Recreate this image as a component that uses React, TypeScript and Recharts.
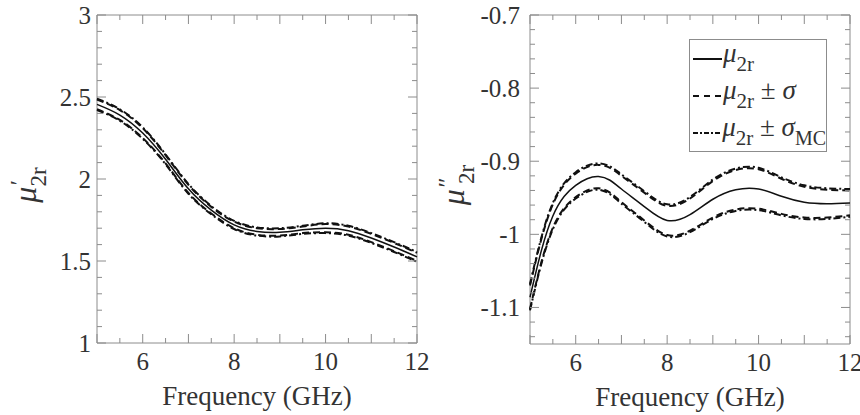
import React from 'react';
import { LineChart, Line, XAxis, YAxis, ReferenceArea, Legend, Label } from 'recharts';

const FONT = "'Liberation Serif'";
const FRAME = '#8c8c8c';
const TEXT = '#333333';
const INK = '#111111';

// ---------- Left panel: real part mu'_2r ----------
const leftFreq = [5, 5.5, 6, 6.5, 7, 7.5, 8, 8.5, 9, 9.5, 10, 10.5, 11, 11.5, 12];
const leftMean = [2.455, 2.39, 2.28, 2.12, 1.94, 1.81, 1.72, 1.68, 1.675, 1.69, 1.70, 1.685, 1.64, 1.585, 1.525];
const leftSigmaUp = [2.485, 2.42, 2.31, 2.145, 1.965, 1.83, 1.74, 1.70, 1.695, 1.71, 1.725, 1.71, 1.665, 1.61, 1.55];
const leftSigmaDown = [2.425, 2.36, 2.25, 2.095, 1.915, 1.79, 1.70, 1.66, 1.655, 1.67, 1.675, 1.66, 1.615, 1.56, 1.50];
const leftMcUp = [2.49, 2.425, 2.315, 2.15, 1.97, 1.835, 1.745, 1.705, 1.70, 1.715, 1.73, 1.715, 1.67, 1.615, 1.555];
const leftMcDown = [2.42, 2.355, 2.245, 2.09, 1.91, 1.785, 1.695, 1.655, 1.65, 1.665, 1.67, 1.655, 1.61, 1.555, 1.495];

// ---------- Right panel: imaginary part mu''_2r ----------
const rightFreq = [5, 5.25, 5.5, 5.75, 6, 6.25, 6.5, 6.75, 7, 7.5, 8, 8.5, 9, 9.5, 10, 10.5, 11, 11.5, 12];
const rightMean = [-1.086, -1.022, -0.975, -0.948, -0.933, -0.924, -0.921, -0.926, -0.938, -0.962, -0.981, -0.973, -0.952, -0.939, -0.938, -0.948, -0.956, -0.958, -0.957];
const rightSigmaUp = [-1.070, -1.006, -0.959, -0.932, -0.917, -0.908, -0.905, -0.909, -0.920, -0.943, -0.961, -0.951, -0.927, -0.912, -0.911, -0.924, -0.935, -0.939, -0.940];
const rightSigmaDown = [-1.102, -1.038, -0.991, -0.964, -0.949, -0.940, -0.937, -0.943, -0.956, -0.981, -1.001, -0.995, -0.977, -0.966, -0.965, -0.972, -0.977, -0.977, -0.974];
const rightMcUp = [-1.068, -1.004, -0.957, -0.930, -0.915, -0.906, -0.903, -0.907, -0.918, -0.941, -0.959, -0.949, -0.925, -0.910, -0.909, -0.922, -0.933, -0.937, -0.938];
const rightMcDown = [-1.104, -1.040, -0.993, -0.966, -0.951, -0.942, -0.939, -0.945, -0.958, -0.983, -1.003, -0.997, -0.979, -0.968, -0.967, -0.974, -0.979, -0.979, -0.976];

// ---------- Tick labels ----------
const xLabelTicks = [6, 8, 10, 12];
const leftYLabelTicks = [1, 1.5, 2, 2.5, 3];
const rightYLabelTicks = [-1.1, -1, -0.9, -0.8, -0.7];
const xAxisTitle = 'Frequency (GHz)';

const legendItems = [
  { key: 'mean', sigmaSub: null as string | null, pm: false, dash: undefined as string | undefined },
  { key: 'sigma', sigmaSub: '', pm: true, dash: '6 5' },
  { key: 'mc', sigmaSub: 'MC', pm: true, dash: '5 2 2 2' },
];

function steps(lo: number, hi: number, step: number): number[] {
  const out: number[] = [];
  const n = Math.round((hi - lo) / step);
  for (let i = 0; i <= n; i++) out.push(Math.round((lo + i * step) * 1000) / 1000);
  return out;
}

const xTicks = steps(5, 12, 0.5);
const leftYTicks = steps(1, 3, 0.1);
const rightYTicks = steps(-1.14, -0.7, 0.02);

const leftData = leftFreq.map((f, i) => ({
  f,
  mean: leftMean[i],
  sUp: leftSigmaUp[i],
  sDown: leftSigmaDown[i],
  mUp: leftMcUp[i],
  mDown: leftMcDown[i],
}));

const rightData = rightFreq.map((f, i) => ({
  f,
  mean: rightMean[i],
  sUp: rightSigmaUp[i],
  sDown: rightSigmaDown[i],
  mUp: rightMcUp[i],
  mDown: rightMcDown[i],
}));

const near = (a: number, b: number) => Math.abs(a - b) < 1e-6;
const txtStyle = { fontFamily: FONT };

function makeXTick(plotH: number) {
  return (props: any) => {
    const { x, y, payload } = props;
    const v = payload.value as number;
    const major = Number.isInteger(v);
    const len = major ? 9 : 5;
    const label = xLabelTicks.some((t) => near(t, v));
    return (
      <g>
        <line x1={x} y1={y} x2={x} y2={y - len} stroke={FRAME} strokeWidth={1} />
        <line x1={x} y1={y - plotH} x2={x} y2={y - plotH + len} stroke={FRAME} strokeWidth={1} />
        {label && (
          <text x={x} y={y + 27} textAnchor="middle" style={txtStyle} fontSize={25} fill={TEXT}>
            {String(v)}
          </text>
        )}
      </g>
    );
  };
}

function makeYTick(plotW: number, labels: number[], majorStep: number, gap: number) {
  return (props: any) => {
    const { x, y, payload } = props;
    const v = payload.value as number;
    const r = v / majorStep;
    const major = Math.abs(r - Math.round(r)) < 1e-6;
    const len = major ? 9 : 5;
    const label = labels.some((t) => near(t, v));
    return (
      <g>
        <line x1={x} y1={y} x2={x + len} y2={y} stroke={FRAME} strokeWidth={1} />
        <line x1={x + plotW} y1={y} x2={x + plotW - len} y2={y} stroke={FRAME} strokeWidth={1} />
        {label && (
          <text x={x - gap} y={y} dy="0.35em" textAnchor="end" style={txtStyle} fontSize={25} fill={TEXT}>
            {String(v)}
          </text>
        )}
      </g>
    );
  };
}

function makeYTitle(cx: number, primes: string) {
  return () => {
    const cy = 185;
    return (
      <text
        x={cx}
        y={cy}
        transform={`rotate(-90 ${cx} ${cy})`}
        textAnchor="middle"
        style={txtStyle}
        fill={TEXT}
      >
        <tspan fontStyle="italic" fontSize={32}>μ</tspan>
        <tspan fontStyle="italic" fontSize={24} dy={-10}>{primes}</tspan>
        <tspan fontSize={23} dx={primes.length > 1 ? -10 : -5} dy={20}>2r</tspan>
      </text>
    );
  };
}

const xTitle = (props: any) => {
  const vb = props.viewBox || {};
  return (
    <text x={vb.x + vb.width / 2} y={vb.y + 62} textAnchor="middle" style={txtStyle} fontSize={27} fill={TEXT}>
      {xAxisTitle}
    </text>
  );
};

const LegendBox = () => (
  <div
    style={{
      border: `1px solid ${FRAME}`,
      width: 136,
      height: 111,
      background: '#fff',
      fontFamily: FONT,
      color: TEXT,
      boxSizing: 'content-box',
    }}
  >
    {legendItems.map((it) => (
      <div key={it.key} style={{ display: 'flex', alignItems: 'center', height: 37, whiteSpace: 'nowrap' }}>
        <svg width={32} height={10} style={{ display: 'block', marginLeft: 1 }}>
          <line x1={2} y1={5} x2={31} y2={5} stroke={INK} strokeWidth={2} strokeDasharray={it.dash} />
        </svg>
        <span style={{ fontSize: 27, lineHeight: '27px', position: 'relative', top: -4 }}>
          <i>μ</i>
          <span style={{ fontSize: 21, position: 'relative', top: 9 }}>2r</span>
          {it.pm && <span> ± </span>}
          {it.pm && <i>σ</i>}
          {it.sigmaSub && <span style={{ fontSize: 20, position: 'relative', top: 9 }}>{it.sigmaSub}</span>}
        </span>
      </div>
    ))}
  </div>
);

const renderLines = () => [
  <Line key="mUp" dataKey="mUp" type="natural" stroke={INK} strokeWidth={2} strokeDasharray="7 3 2 3" dot={false} isAnimationActive={false} />,
  <Line key="mDown" dataKey="mDown" type="natural" stroke={INK} strokeWidth={2} strokeDasharray="7 3 2 3" dot={false} isAnimationActive={false} />,
  <Line key="sUp" dataKey="sUp" type="natural" stroke={INK} strokeWidth={2} strokeDasharray="7 4" dot={false} isAnimationActive={false} />,
  <Line key="sDown" dataKey="sDown" type="natural" stroke={INK} strokeWidth={2} strokeDasharray="7 4" dot={false} isAnimationActive={false} />,
  <Line key="mean" dataKey="mean" type="natural" stroke={INK} strokeWidth={1.5} dot={false} isAnimationActive={false} />,
];

export default function App() {
  return (
    <div style={{ position: 'absolute', left: 0, top: 0, width: 860, height: 415, background: '#fff', fontFamily: FONT }}>
      <div style={{ position: 'absolute', left: 0, top: 0 }}>
        <LineChart width={430} height={415} data={leftData} margin={{ top: 15, right: 13, bottom: 0, left: 0 }}>
          <XAxis
            dataKey="f"
            type="number"
            domain={[5, 12]}
            ticks={xTicks}
            interval={0}
            height={72}
            tickSize={0}
            tickMargin={0}
            axisLine={false}
            tickLine={false}
            tick={makeXTick(328)}
          >
            <Label content={xTitle} />
          </XAxis>
          <YAxis
            type="number"
            domain={[1, 3]}
            ticks={leftYTicks}
            interval={0}
            width={97}
            tickSize={0}
            tickMargin={0}
            axisLine={false}
            tickLine={false}
            allowDataOverflow
            tick={makeYTick(320, leftYLabelTicks, 0.5, 6)}
          >
            <Label content={makeYTitle(36, '′')} />
          </YAxis>
          <ReferenceArea x1={5} x2={12} y1={1} y2={3} fill="none" stroke={FRAME} strokeWidth={1} ifOverflow="visible" />
          {renderLines()}
        </LineChart>
      </div>
      <div style={{ position: 'absolute', left: 430, top: 0 }}>
        <LineChart width={430} height={415} data={rightData} margin={{ top: 15, right: 10, bottom: 0, left: 0 }}>
          <XAxis
            dataKey="f"
            type="number"
            domain={[5, 12]}
            ticks={xTicks}
            interval={0}
            height={71}
            tickSize={0}
            tickMargin={0}
            axisLine={false}
            tickLine={false}
            tick={makeXTick(329)}
          >
            <Label content={xTitle} />
          </XAxis>
          <YAxis
            type="number"
            domain={[-1.15, -0.7]}
            ticks={rightYTicks}
            interval={0}
            width={100}
            tickSize={0}
            tickMargin={0}
            axisLine={false}
            tickLine={false}
            allowDataOverflow
            tick={makeYTick(320, rightYLabelTicks, 0.1, 10)}
          >
            <Label content={makeYTitle(34, '″')} />
          </YAxis>
          <ReferenceArea x1={5} x2={12} y1={-1.15} y2={-0.7} fill="none" stroke={FRAME} strokeWidth={1} ifOverflow="visible" />
          {renderLines()}
          <Legend
            layout="vertical"
            align="center"
            verticalAlign="middle"
            content={<LegendBox />}
            wrapperStyle={{ left: 259, top: 39, width: 138, height: 113 }}
          />
        </LineChart>
      </div>
    </div>
  );
}
